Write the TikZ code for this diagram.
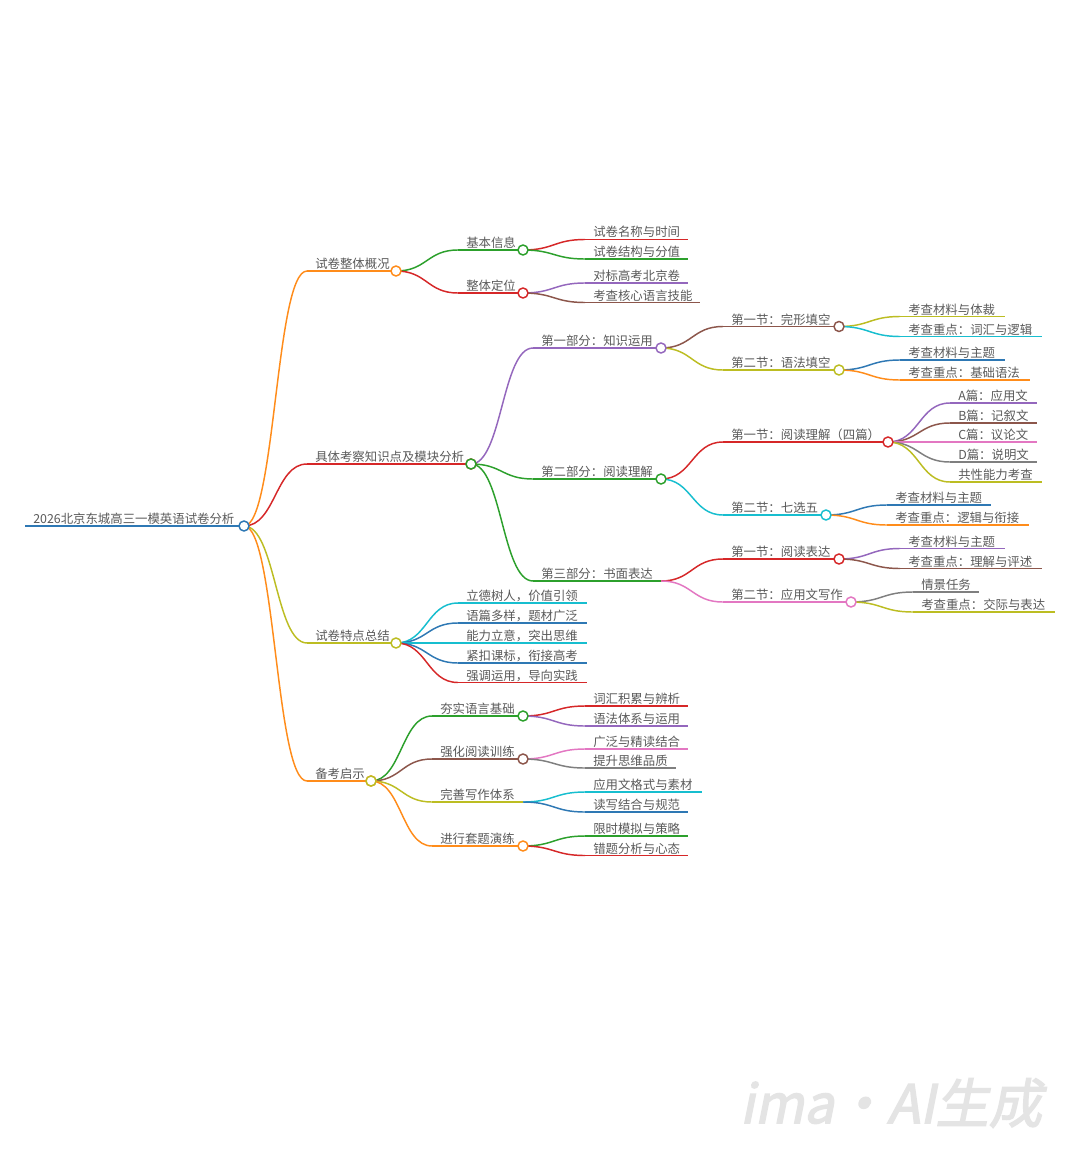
\documentclass[tikz,border=0pt]{standalone}
\usepackage{fontspec}
\newfontfamily\cjk{Noto Sans CJK SC}
\newfontfamily\wmfont[FakeSlant=0.2,FakeBold=2.5]{Noto Sans CJK SC}
\usetikzlibrary{calc}
\definecolor{cblue}{HTML}{2E78B4}
\definecolor{corange}{HTML}{FF8C1A}
\definecolor{cgreen}{HTML}{2CA02C}
\definecolor{cred}{HTML}{D62728}
\definecolor{cpurple}{HTML}{9467BD}
\definecolor{cbrown}{HTML}{8C564B}
\definecolor{cpink}{HTML}{E377C2}
\definecolor{cgray}{HTML}{7F7F7F}
\definecolor{colive}{HTML}{BCBD22}
\definecolor{ccyan}{HTML}{17BECF}
\definecolor{txtgray}{HTML}{5A5A5A}
\definecolor{wmgray}{HTML}{E4E4E4}
% name, colour, start x, y, circle x, label
\newcommand\mmcirc[6]{%
  \coordinate (#1s) at (#3,#4);
  \coordinate (#1) at (#5,#4);
  \draw[#2,ln] (#1s) -- (#1);
  \node[lbl] (#1t) at ({#3+8},{#4-2.5}) {#6};}
% name, colour, start x, y, end x, label
\newcommand\mmleaf[6]{%
  \coordinate (#1s) at (#3,#4);
  \coordinate (#1e) at (#5,#4);
  \draw[#2,ln] (#1s) -- (#1e);
  \node[lbl] (#1t) at ({#3+8},{#4-2.5}) {#6};}
% colour, parent, child
\newcommand\mmlink[3]{%
  \draw[#1,ln] let \p1=(#2), \p2=(#3s) in
    (\p1) .. controls ({0.5*\x1+0.5*\x2},\y1) and ({0.5*\x1+0.5*\x2},\y2) .. (\p2);}
\newcommand\mmdot[2]{\node[dot,draw=#2] (#1c) at (#1) {};}
\begin{document}
\begin{tikzpicture}[x=0.75pt,y=-0.75pt,
  ln/.style={line width=1.1pt},
  lbl/.style={anchor=base west,inner sep=0pt,text=txtgray,font=\cjk\fontsize{9.3}{11}\selectfont},
  dot/.style={circle,fill=white,line width=1.1pt,minimum size=7.5pt,inner sep=0pt}]
\fill[white] (0,0) rectangle (1080,1166);
\useasboundingbox (0,0) rectangle (1080,1166);

% root
\mmcirc{R}{cblue}{25}{526}{244}{2026北京东城高三一模英语试卷分析}
% level 1
\mmcirc{A}{corange}{307}{271}{396}{试卷整体概况}
\mmcirc{B}{cred}{307}{464}{471}{具体考察知识点及模块分析}
\mmcirc{C}{colive}{307}{643}{396}{试卷特点总结}
\mmcirc{D}{corange}{307}{781}{371}{备考启示}
% A
\mmcirc{Aa}{cgreen}{458}{250}{523}{基本信息}
\mmcirc{Ab}{cred}{458}{293}{523}{整体定位}
\mmleaf{Aaa}{cred}{585}{239.5}{688}{试卷名称与时间}
\mmleaf{Aab}{cgreen}{585}{259}{688}{试卷结构与分值}
\mmleaf{Aba}{cpurple}{585}{283}{688}{对标高考北京卷}
\mmleaf{Abb}{cbrown}{585}{302.5}{700}{考查核心语言技能}
% B
\mmcirc{Ba}{cpurple}{533}{348}{661}{第一部分：知识运用}
\mmcirc{Bb}{cgreen}{533}{479}{661}{第二部分：阅读理解}
\mmcirc{Bc}{cgreen}{533}{581}{661}{第三部分：书面表达}
\mmcirc{Baa}{cbrown}{723}{326.5}{839}{第一节：完形填空}
\mmcirc{Bab}{colive}{723}{370}{839}{第二节：语法填空}
\mmleaf{Baaa}{colive}{900}{316.5}{1005}{考查材料与体裁}
\mmleaf{Baab}{ccyan}{900}{336.5}{1042}{考查重点：词汇与逻辑}
\mmleaf{Baba}{cblue}{900}{360}{1005}{考查材料与主题}
\mmleaf{Babb}{corange}{900}{380}{1030}{考查重点：基础语法}
\mmcirc{Bba}{cred}{723}{442}{888}{第一节：阅读理解（四篇）}
\mmcirc{Bbb}{ccyan}{723}{515}{826}{第二节：七选五}
\mmleaf{Bbaa}{cpurple}{950}{403}{1037}{A篇：应用文}
\mmleaf{Bbab}{cbrown}{950}{423}{1037}{B篇：记叙文}
\mmleaf{Bbac}{cpink}{950}{442}{1037}{C篇：议论文}
\mmleaf{Bbad}{cgray}{950}{462}{1037}{D篇：说明文}
\mmleaf{Bbae}{colive}{950}{482}{1042}{共性能力考查}
\mmleaf{Bbba}{cblue}{887}{505}{991}{考查材料与主题}
\mmleaf{Bbbb}{corange}{887}{525}{1029}{考查重点：逻辑与衔接}
\mmcirc{Bca}{cred}{723}{559}{839}{第一节：阅读表达}
\mmcirc{Bcb}{cpink}{723}{602}{851}{第二节：应用文写作}
\mmleaf{Bcaa}{cpurple}{900}{548.5}{1005}{考查材料与主题}
\mmleaf{Bcab}{cbrown}{900}{568.5}{1042}{考查重点：理解与评述}
\mmleaf{Bcba}{cgray}{913}{592}{979}{情景任务}
\mmleaf{Bcbb}{colive}{913}{612}{1055}{考查重点：交际与表达}
% C
\mmleaf{Ca}{ccyan}{458}{603}{587}{立德树人，价值引领}
\mmleaf{Cb}{cblue}{458}{623}{587}{语篇多样，题材广泛}
\mmleaf{Cc}{ccyan}{458}{643}{587}{能力立意，突出思维}
\mmleaf{Cd}{cblue}{458}{663}{587}{紧扣课标，衔接高考}
\mmleaf{Ce}{cred}{458}{682.5}{587}{强调运用，导向实践}
% D
\mmcirc{Da}{cgreen}{432}{716}{523}{夯实语言基础}
\mmcirc{Db}{cbrown}{432}{759}{523}{强化阅读训练}
\mmcirc{Dc}{colive}{432}{802}{523}{完善写作体系}
\mmcirc{Dd}{corange}{432}{846}{523}{进行套题演练}
\mmleaf{Daa}{cred}{585}{706}{688}{词汇积累与辨析}
\mmleaf{Dab}{cpurple}{585}{726}{688}{语法体系与运用}
\mmleaf{Dba}{cpink}{585}{749}{688}{广泛与精读结合}
\mmleaf{Dbb}{cgray}{585}{768}{676}{提升思维品质}
\mmleaf{Dca}{ccyan}{585}{792}{702}{应用文格式与素材}
\mmleaf{Dcb}{cblue}{585}{812}{688}{读写结合与规范}
\mmleaf{Dda}{cgreen}{585}{836}{688}{限时模拟与策略}
\mmleaf{Ddb}{cred}{585}{855.5}{688}{错题分析与心态}

% links
\mmlink{corange}{R}{A}
\mmlink{cred}{R}{B}
\mmlink{colive}{R}{C}
\mmlink{corange}{R}{D}
\mmlink{cgreen}{A}{Aa}
\mmlink{cred}{A}{Ab}
\mmlink{cred}{Aa}{Aaa}
\mmlink{cgreen}{Aa}{Aab}
\mmlink{cpurple}{Ab}{Aba}
\mmlink{cbrown}{Ab}{Abb}
\mmlink{cpurple}{B}{Ba}
\mmlink{cgreen}{B}{Bb}
\mmlink{cgreen}{B}{Bc}
\mmlink{cbrown}{Ba}{Baa}
\mmlink{colive}{Ba}{Bab}
\mmlink{colive}{Baa}{Baaa}
\mmlink{ccyan}{Baa}{Baab}
\mmlink{cblue}{Bab}{Baba}
\mmlink{corange}{Bab}{Babb}
\mmlink{cred}{Bb}{Bba}
\mmlink{ccyan}{Bb}{Bbb}
\mmlink{cpurple}{Bba}{Bbaa}
\mmlink{cbrown}{Bba}{Bbab}
\mmlink{cpink}{Bba}{Bbac}
\mmlink{cgray}{Bba}{Bbad}
\mmlink{colive}{Bba}{Bbae}
\mmlink{cblue}{Bbb}{Bbba}
\mmlink{corange}{Bbb}{Bbbb}
\mmlink{cred}{Bc}{Bca}
\mmlink{cpink}{Bc}{Bcb}
\mmlink{cpurple}{Bca}{Bcaa}
\mmlink{cbrown}{Bca}{Bcab}
\mmlink{cgray}{Bcb}{Bcba}
\mmlink{colive}{Bcb}{Bcbb}
\mmlink{ccyan}{C}{Ca}
\mmlink{cblue}{C}{Cb}
\mmlink{ccyan}{C}{Cc}
\mmlink{cblue}{C}{Cd}
\mmlink{cred}{C}{Ce}
\mmlink{cgreen}{D}{Da}
\mmlink{cbrown}{D}{Db}
\mmlink{colive}{D}{Dc}
\mmlink{corange}{D}{Dd}
\mmlink{cred}{Da}{Daa}
\mmlink{cpurple}{Da}{Dab}
\mmlink{cpink}{Db}{Dba}
\mmlink{cgray}{Db}{Dbb}
\mmlink{ccyan}{Dc}{Dca}
\mmlink{cblue}{Dc}{Dcb}
\mmlink{cgreen}{Dd}{Dda}
\mmlink{cred}{Dd}{Ddb}

% circles
\mmdot{R}{cblue}
\mmdot{A}{corange}\mmdot{B}{cred}\mmdot{C}{colive}\mmdot{D}{corange}
\mmdot{Aa}{cgreen}\mmdot{Ab}{cred}
\mmdot{Ba}{cpurple}\mmdot{Bb}{cgreen}\mmdot{Bc}{cgreen}
\mmdot{Baa}{cbrown}\mmdot{Bab}{colive}
\mmdot{Bba}{cred}\mmdot{Bbb}{ccyan}
\mmdot{Bca}{cred}\mmdot{Bcb}{cpink}
\mmdot{Da}{cgreen}\mmdot{Db}{cbrown}\mmdot{Dc}{colive}\mmdot{Dd}{corange}

% watermark
\node[inner sep=0pt,text=wmgray,font=\wmfont\fontsize{40}{46}\selectfont] (wm) at (891,1103) {ima·AI生成};
\end{tikzpicture}
\end{document}
